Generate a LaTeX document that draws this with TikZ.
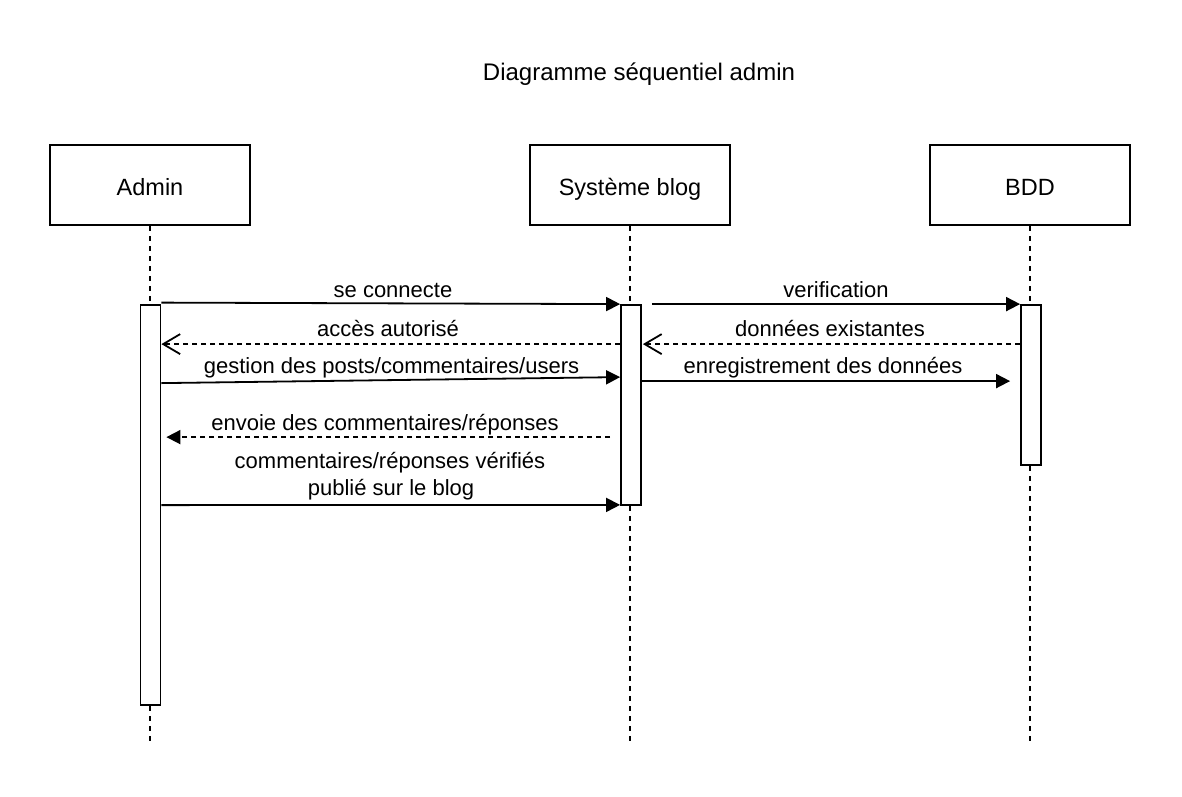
\documentclass[tikz,border=0pt]{standalone}
\usepackage{fontspec}
\setmainfont{Liberation Sans}
\usetikzlibrary{arrows.meta,calc}
\begin{document}
\begin{tikzpicture}[x=1pt,y=-1pt,
  actor/.style={draw, line width=1.8pt, minimum width=200pt, minimum height=80pt, inner sep=0pt, text height=20pt, text depth=0pt, font=\fontsize{23.5}{27}\selectfont},
  actbar/.style={draw, fill=white, line width=1.8pt, minimum width=20pt, inner sep=0pt},
  life/.style={line width=1.8pt, dash pattern=on 5pt off 5pt},
  msg/.style={line width=1.8pt, -{Triangle[length=14pt,width=14pt]}},
  ret/.style={line width=1.8pt, dash pattern=on 5pt off 4pt, -{Straight Barb[length=17pt,width=20pt]}},
  retf/.style={line width=1.8pt, dash pattern=on 5pt off 4pt, -{Triangle[length=14pt,width=14pt]}},
  lbl/.style={inner sep=0pt, anchor=base, font=\fontsize{22}{26}\selectfont},
  ttl/.style={inner sep=0pt, anchor=base, font=\fontsize{24}{28}\selectfont}]
\useasboundingbox (0,0) rectangle (1182,796);

\node[ttl] (title) at (639,80) {Diagramme séquentiel admin};

\node[actor] (admin) at (150,185) {Admin};
\node[actor] (sys) at (630,185) {Système blog};
\node[actor] (bdd) at (1030,185) {BDD};

\coordinate (endA) at (150,745);
\coordinate (endS) at (630,745);
\coordinate (endB) at (1030,745);
\draw[life] (admin.south) -- (endA);
\draw[life] (sys.south) -- (endS);
\draw[life] (bdd.south) -- (endB);

\node[actbar, minimum height=400pt] (aA) at (150.5,505) {};
\node[actbar, minimum height=200pt] (aS) at (631,405) {};
\node[actbar, minimum height=160pt] (aB) at (1031,385) {};

% messages
\coordinate (v0) at ($(aS.north east)+(10,0)$);
\coordinate (e0) at ($(aB.north west)+(-10,77)$);
\coordinate (w0) at ($(aS.north west)+(-10,133)$);
\coordinate (w1) at ($(aA.north east)+(5,133)$);

\draw[msg] ($(aA.north east)+(0,-1.5)$) -- (aS.north west);
\node[lbl] (l1) at (393,297) {se connecte};

\draw[msg] (v0) -- (aB.north west);
\node[lbl] (l2) at (836,297) {verification};

\draw[ret] ($(aS.north west)+(0,40)$) -- ($(aA.north east)+(0,40)$);
\node[lbl] (l3) at (388,336) {accès autorisé};

\draw[ret] ($(aB.north west)+(0,40)$) -- ($(aS.north east)+(1,40)$);
\node[lbl] (l4) at (830,336) {données existantes};

\draw[msg] ($(aA.north east)+(0,79)$) -- ($(aS.north west)+(0,73)$);
\node[lbl] (l5) at (391.5,373.5) {gestion des posts/commentaires/users};

\draw[msg] ($(aS.north east)+(0,77)$) -- (e0);
\node[lbl] (l6) at (823,373.5) {enregistrement des données};

\draw[retf] (w0) -- (w1);
\node[lbl] (l7) at (385,430) {envoie des commentaires/réponses};

\draw[msg] ($(aA.north east)+(0,201)$) -- ($(aS.south west)+(0,-1)$);
\node[lbl] (l8) at (390,468.5) {commentaires/réponses vérifiés};
\node[lbl] (l9) at (391,495) {publié sur le blog};
\end{tikzpicture}
\end{document}
